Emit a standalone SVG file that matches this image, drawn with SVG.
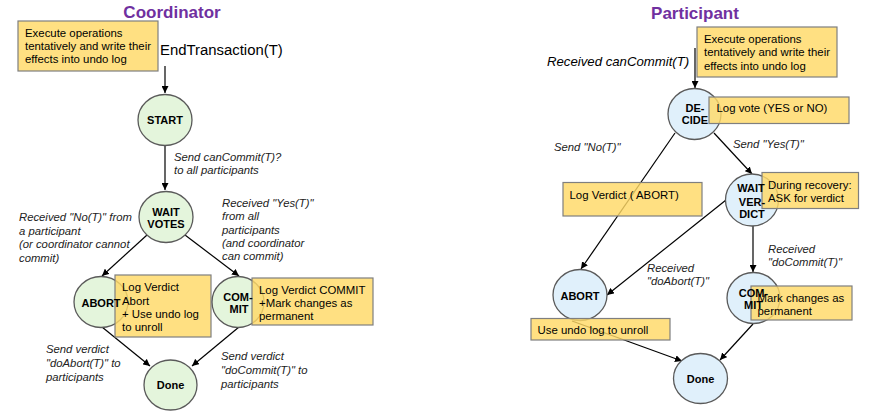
<svg xmlns="http://www.w3.org/2000/svg" width="871" height="416" viewBox="0 0 871 416">
<defs>
<marker id="ah" viewBox="0 0 10 10" refX="10" refY="5" markerWidth="7" markerHeight="7" orient="auto" markerUnits="userSpaceOnUse">
<path d="M0,0 L10,5 L0,10 z" fill="#000"/>
</marker>
</defs>
<style>
text{font-family:"Liberation Sans",Arial,sans-serif;fill:#000}
.title{font-size:17px;font-weight:bold;fill:#7030A0}
.st{font-size:11px;font-weight:bold}
.box{fill:#FFD966;fill-opacity:0.82;stroke:#7F7F7F;stroke-width:1.2}
.bt{font-size:11.4px}
.lab{font-size:11.3px;font-style:italic;fill:#222}
.cg{fill:#E4F5DC;stroke:#5A5A5A;stroke-width:1.3}
.cb{fill:#E0F0FB;stroke:#5A5A5A;stroke-width:1.3}
.conn line{stroke:#000;stroke-width:1.2;marker-end:url(#ah)}
</style>
<rect width="871" height="416" fill="#fff"/>

<text class="title" x="172" y="18" text-anchor="middle">Coordinator</text>
<text class="title" x="695" y="19" text-anchor="middle">Participant</text>

<!-- connectors -->
<g id="connectors" class="conn">
<line x1="165" y1="66" x2="165" y2="93"/>
<line x1="165" y1="146" x2="165" y2="190"/>
<line x1="147" y1="235" x2="102" y2="276"/>
<line x1="185" y1="235" x2="239" y2="276"/>
<line x1="102" y1="327" x2="150" y2="366"/>
<line x1="239" y1="327" x2="192" y2="366"/>
<line x1="695" y1="48" x2="695" y2="88"/>
<line x1="714" y1="133" x2="752" y2="174"/>
<line x1="675" y1="133" x2="581" y2="269"/>
<line x1="726" y1="200" x2="607" y2="295"/>
<line x1="753" y1="226" x2="753" y2="272"/>
<line x1="572" y1="321" x2="682" y2="361"/>
<line x1="753" y1="324" x2="720" y2="360"/>
</g>

<!-- coordinator nodes -->
<g id="c-note">
<rect class="box" x="18" y="21" width="140" height="50"/>
<text class="bt" x="25" y="37">Execute operations</text>
<text class="bt" x="25" y="50">tentatively and write their</text>
<text class="bt" x="25" y="63"> effects into undo log</text>
</g>
<g id="c-endtx">
<text x="160" y="55" font-size="14.9">EndTransaction(T)</text>
</g>
<g id="c-start">
<ellipse class="cg" cx="165" cy="120" rx="27" ry="25.5"/>
<text class="st" x="165" y="124" text-anchor="middle">START</text>
</g>
<g id="c-wait">
<ellipse class="cg" cx="166" cy="217" rx="27" ry="25.5"/>
<text class="st" x="166" y="215.5" text-anchor="middle">WAIT</text>
<text class="st" x="166" y="227.5" text-anchor="middle">VOTES</text>
</g>
<g id="c-abort">
<ellipse class="cg" cx="101" cy="302" rx="27" ry="25.5"/>
<rect class="box" x="115" y="275" width="96" height="62"/>
<text class="st" x="101" y="307" text-anchor="middle">ABORT</text>
<text class="bt" x="122" y="291">Log Verdict</text>
<text class="bt" x="122" y="304.5">Abort</text>
<text class="bt" x="122" y="318">+ Use undo log</text>
<text class="bt" x="122" y="331">to unroll</text>
</g>
<g id="c-commit">
<ellipse class="cg" cx="238" cy="302" rx="26" ry="25.5"/>
<rect class="box" x="252" y="278" width="121" height="47"/>
<text class="st" x="238" y="300.5" text-anchor="middle">COM-</text>
<text class="st" x="239" y="313" text-anchor="middle">MIT</text>
<text class="bt" x="259" y="293.5">Log Verdict COMMIT</text>
<text class="bt" x="259" y="306.5">+Mark changes as</text>
<text class="bt" x="259" y="320">permanent</text>
</g>
<g id="c-done">
<ellipse class="cg" cx="170.5" cy="385" rx="26.5" ry="25"/>
<text class="st" x="170.5" y="389" text-anchor="middle">Done</text>
</g>

<!-- coordinator labels -->
<g id="c-labels">
<text class="lab" x="174" y="161">Send canCommit(T)?</text>
<text class="lab" x="174" y="174">to all participants</text>
<text class="lab" x="19" y="221">Received "No(T)" from</text>
<text class="lab" x="19" y="234.5">a participant</text>
<text class="lab" x="19" y="248">(or coordinator cannot</text>
<text class="lab" x="19" y="261.5">commit)</text>
<text class="lab" x="222" y="207">Received "Yes(T)"</text>
<text class="lab" x="222" y="220">from all</text>
<text class="lab" x="222" y="233.5">participants</text>
<text class="lab" x="222" y="247">(and coordinator</text>
<text class="lab" x="222" y="260">can commit)</text>
<text class="lab" x="46" y="353">Send verdict</text>
<text class="lab" x="46" y="367">"doAbort(T)" to</text>
<text class="lab" x="46" y="380.5">participants</text>
<text class="lab" x="221" y="360">Send verdict</text>
<text class="lab" x="221" y="374">"doCommit(T)" to</text>
<text class="lab" x="221" y="387.5">participants</text>
</g>

<!-- participant nodes -->
<g id="p-note">
<rect class="box" x="697" y="27" width="140" height="50"/>
<text class="bt" x="704" y="43">Execute operations</text>
<text class="bt" x="704" y="56">tentatively and write their</text>
<text class="bt" x="704" y="69.5"> effects into undo log</text>
</g>
<g id="p-received">
<text x="547" y="66" font-size="13.2" font-style="italic">Received canCommit(T)</text>
</g>
<g id="p-decide">
<ellipse class="cb" cx="694.5" cy="114" rx="26.5" ry="25.5"/>
<rect class="box" x="709" y="97" width="140" height="26.5"/>
<text class="st" x="695" y="112" text-anchor="middle">DE-</text>
<text class="st" x="695" y="124" text-anchor="middle">CIDE</text>
<text class="bt" x="716.5" y="112">Log vote (YES or NO)</text>
</g>
<g id="p-logabort">
<rect class="box" x="563" y="182.5" width="139" height="33.5"/>
<text class="bt" x="569.5" y="198.5">Log Verdict ( ABORT)</text>
</g>
<g id="p-waitverdict">
<ellipse class="cb" cx="752" cy="200" rx="26.5" ry="26"/>
<rect class="box" x="762" y="172.5" width="96.5" height="36"/>
<text class="st" x="751" y="192.3" text-anchor="middle">WAIT</text>
<text class="st" x="752" y="205.5" text-anchor="middle">VER-</text>
<text class="st" x="752" y="217.5" text-anchor="middle">DICT</text>
<text class="bt" x="768" y="188.5">During recovery:</text>
<text class="bt" x="768" y="202">ASK for verdict</text>
</g>
<g id="p-abort">
<ellipse class="cb" cx="580" cy="295" rx="27" ry="25.5"/>
<rect class="box" x="531" y="318.5" width="139" height="21.5"/>
<text class="st" x="580" y="299.5" text-anchor="middle">ABORT</text>
<text class="bt" x="537.5" y="333.5">Use undo log to unroll</text>
</g>
<g id="p-commit">
<ellipse class="cb" cx="753.5" cy="298" rx="26.5" ry="25.5"/>
<rect class="box" x="751" y="286" width="101" height="34"/>
<text class="st" x="753.5" y="296.5" text-anchor="middle">COM-</text>
<text class="st" x="753.5" y="309" text-anchor="middle">MIT</text>
<text class="bt" x="757.5" y="302">Mark changes as</text>
<text class="bt" x="757.5" y="314.5">permanent</text>
</g>
<g id="p-done">
<ellipse class="cb" cx="700.5" cy="378.5" rx="27" ry="25"/>
<text class="st" x="700.5" y="383" text-anchor="middle">Done</text>
</g>

<!-- participant labels -->
<g id="p-labels">
<text class="lab" x="554" y="151">Send "No(T)"</text>
<text class="lab" x="733" y="148">Send "Yes(T)"</text>
<text class="lab" x="768" y="253">Received</text>
<text class="lab" x="768" y="266">"doCommit(T)"</text>
<text class="lab" x="647" y="272">Received</text>
<text class="lab" x="647" y="285">"doAbort(T)"</text>
</g>
</svg>
